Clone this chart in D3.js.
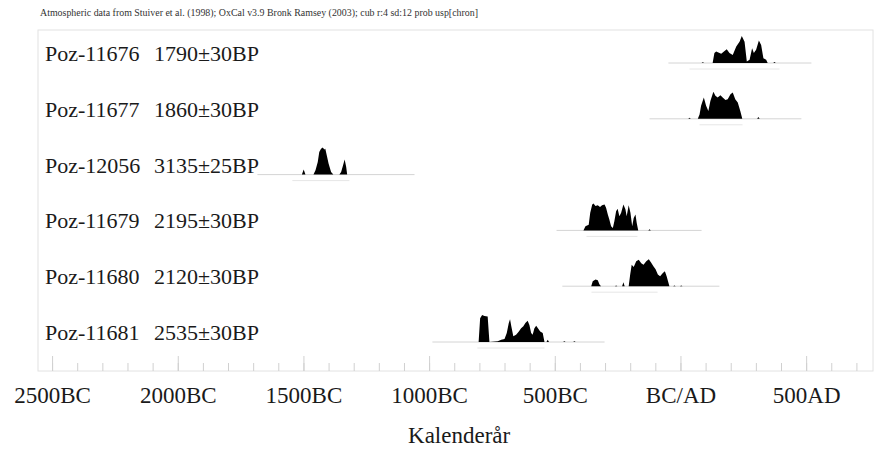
<!DOCTYPE html>
<html><head><meta charset="utf-8">
<script src="https://cdn.jsdelivr.net/npm/d3@7"></script>
<style>
body{margin:0;background:#fff;}
svg{display:block;font-family:"Liberation Serif","Times New Roman",serif;}
</style></head>
<body><svg id="c" width="875" height="451"></svg>
<script>
// ---- data ----
const header = "Atmospheric data from Stuiver et al. (1998); OxCal v3.9 Bronk Ramsey (2003); cub r:4 sd:12 prob usp[chron]";
const sampleNames = ["Poz-11676","Poz-11677","Poz-12056","Poz-11679","Poz-11680","Poz-11681"];
const sampleDates = ["1790\u00b130BP","1860\u00b130BP","3135\u00b125BP","2195\u00b130BP","2120\u00b130BP","2535\u00b130BP"];
// calendar years (negative = BC) and relative probability (% of max)
const years1 = [84,89,94,128,135,142,162,184,195,208,222,235,244,255,264,275,285,292,301,312,321,330,341,347,369,374,379];
const prob1  = [0,3,0,0,37,43,34,51,37,30,61,79,100,79,6,12,55,37,49,83,67,18,12,0,0,4,0];
const years2 = [31,36,41,69,76,82,93,102,111,119,131,139,148,159,168,179,188,199,208,218,228,238,246,305,310,315];
const prob2  = [0,4,0,0,16,48,79,48,29,66,100,85,79,87,79,70,72,91,97,72,60,29,0,0,7,0];
const years3 = [-1506,-1499,-1492,-1460,-1452,-1443,-1437,-1430,-1423,-1417,-1413,-1407,-1400,-1390,-1381,-1357,-1350,-1344,-1336,-1330,-1326];
const prob3  = [0,19,0,0,16,47,84,96,100,93,96,71,41,10,0,0,10,29,56,29,0];
const years4 = [-386,-378,-365,-359,-351,-346,-338,-329,-320,-312,-302,-296,-289,-283,-276,-269,-263,-256,-250,-243,-236,-227,-219,-214,-206,-199,-192,-186,-179,-174,-168,-128,-123,-118];
const prob4  = [0,15,21,65,96,100,90,93,87,93,96,84,59,40,15,9,34,71,80,52,65,96,78,52,93,65,15,46,59,27,0,0,4,0];
const years5 = [-355,-349,-338,-329,-322,-316,-261,-256,-251,-232,-227,-222,-206,-200,-194,-186,-176,-166,-156,-147,-136,-126,-117,-107,-99,-90,-81,-70,-62,-55,-44,-29,-24,-19,-2,3,8];
const prob5  = [0,18,25,22,6,0,0,3,0,0,15,0,0,43,79,71,92,98,85,79,92,100,88,73,63,43,37,49,55,37,0,0,3,0,0,3,0];
const years6 = [-803,-797,-789,-780,-767,-760,-727,-713,-700,-691,-683,-678,-673,-665,-654,-643,-634,-625,-617,-608,-601,-594,-588,-581,-574,-567,-558,-548,-541,-533,-528,-523,-467,-462,-457,-427,-422,-417];
const prob6  = [0,88,100,96,94,0,3,8,11,33,70,84,58,21,27,39,51,58,70,79,63,33,27,51,60,51,39,33,0,0,8,0,0,3,0,0,3,0];
// extent of the plotted calibration line and 95% range for each sample
const lineExtents = [[-48,521],[-123,481],[-1683,-1058],[-493,84],[-470,155],[-987,-302]];
const ranges95 = [[36,394],[76,247],[-1544,-1317],[-374,-171],[-354,-91],[-808,-541]];
// axis
const majorTicks = [-2500,-2000,-1500,-1000,-500,0,500];
const minorTicks = d3.range(-2500, 701, 100);
const axisTitle = "Kalender\u00e5r";

const series = [[years1,prob1],[years2,prob2],[years3,prob3],[years4,prob4],[years5,prob5],[years6,prob6]];

// ---- drawing ----
const svg = d3.select("#c");
const frame = {l:38, t:30, r:873, b:371};
const x = d3.scaleLinear().domain([-2556, 766]).range([frame.l, frame.r]);
const row = d3.scalePoint().domain(sampleNames).range([63, 342]);
const h = d3.scaleLinear().domain([0, 100]).range([0, 27]);

svg.append("text").attr("x", 40).attr("y", 16).attr("font-size", 10).attr("fill", "#333")
  .attr("textLength", 438).attr("lengthAdjust", "spacingAndGlyphs")
  .text(header);

svg.append("rect").attr("x", frame.l).attr("y", frame.t)
  .attr("width", frame.r - frame.l).attr("height", frame.b - frame.t)
  .attr("fill", "none").attr("stroke", "#e2e2e2").attr("stroke-width", 1);

const g = svg.selectAll("g.row").data(sampleNames).join("g").attr("class", "row");

g.append("line")
  .attr("x1", (d,i) => x(lineExtents[i][0])).attr("x2", (d,i) => x(lineExtents[i][1]))
  .attr("y1", d => row(d)).attr("y2", d => row(d))
  .attr("stroke", "#d4d4d4").attr("stroke-width", 1);

g.append("line")
  .attr("x1", (d,i) => x(ranges95[i][0])).attr("x2", (d,i) => x(ranges95[i][1]))
  .attr("y1", d => row(d) + 6).attr("y2", d => row(d) + 6)
  .attr("stroke", "#e6e6e6").attr("stroke-width", 1);

g.append("path")
  .attr("d", (d,i) => {
    const [ys, ps] = series[i];
    const base = row(d);
    return d3.area().x(j => x(ys[j])).y0(base).y1(j => base - h(ps[j]))(d3.range(ys.length));
  })
  .attr("fill", "#000");

g.append("text").attr("x", 45).attr("y", d => row(d) - 2)
  .attr("font-size", 22).attr("fill", "#1a1a1a").text(d => d);
g.append("text").attr("x", 154).attr("y", d => row(d) - 2)
  .attr("font-size", 22).attr("fill", "#1a1a1a").text((d,i) => sampleDates[i]);

const minorAxis = d3.axisBottom(x).tickValues(minorTicks).tickSize(-8).tickFormat("");
const majorAxis = d3.axisBottom(x).tickValues(majorTicks).tickSize(-15).tickPadding(16)
  .tickFormat(d => d < 0 ? (-d) + "BC" : d === 0 ? "BC/AD" : d + "AD");

const ga = svg.append("g").attr("transform", `translate(0,${frame.b})`).call(minorAxis);
ga.select(".domain").remove();
ga.selectAll("line").attr("stroke", "#d0d0d0");
const gb = svg.append("g").attr("transform", `translate(0,${frame.b})`).call(majorAxis);
gb.select(".domain").remove();
gb.selectAll("line").attr("stroke", "#d0d0d0");
gb.selectAll("text").attr("font-size", 23).attr("fill", "#1a1a1a")
  .attr("font-family", "Liberation Serif, Times New Roman, serif");

svg.append("text").attr("x", (x(-2500) + x(500)) / 2 + 30).attr("y", 443)
  .attr("text-anchor", "middle").attr("font-size", 23).attr("fill", "#1a1a1a").text(axisTitle);
</script></body></html>
